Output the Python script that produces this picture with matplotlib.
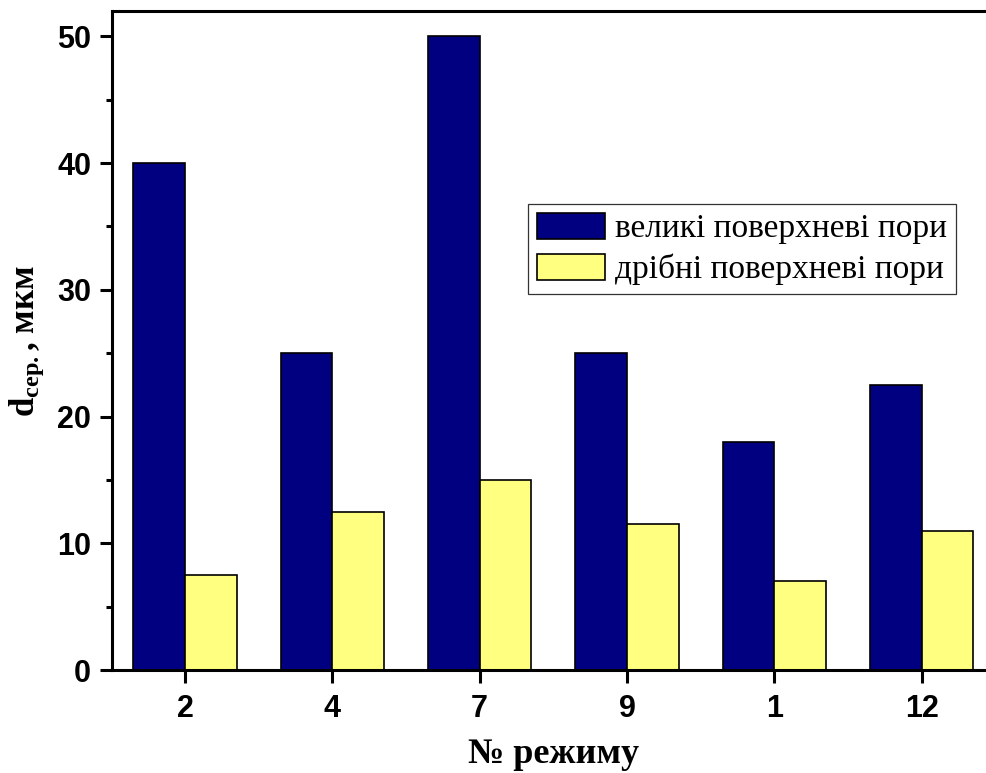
import numpy as np
import matplotlib
matplotlib.use("Agg")
import matplotlib.pyplot as plt
from matplotlib.ticker import MultipleLocator

# режими та середні діаметри пор, мкм
modes = ["2", "4", "7", "9", "1", "12"]
large_pores = [40, 25, 50, 25, 18, 22.5]
small_pores = [7.5, 12.5, 15, 11.5, 7, 11]

label_large = "великі поверхневі пори"
label_small = "дрібні поверхневі пори"

NAVY = "#000080"
PALE_YELLOW = "#FFFF80"

fig = plt.figure(figsize=(9.87, 7.73), dpi=100)
# права межа осей виходить за край рисунка
ax = fig.add_axes([0.1135, 0.1332, 0.8957, 0.8525])

x = np.arange(1, len(modes) + 1)
w = 0.35
ax.bar(x - w / 2, large_pores, width=w, color=NAVY, edgecolor="black",
       linewidth=1.2, label=label_large)
ax.bar(x + w / 2, small_pores, width=w, color=PALE_YELLOW, edgecolor="black",
       linewidth=1.2, label=label_small)

ax.set_xlim(0.505, 6.505)
ax.set_ylim(0, 52)
ax.set_xticks(x)
ax.set_xticklabels(modes)
ax.yaxis.set_major_locator(MultipleLocator(10))
ax.yaxis.set_minor_locator(MultipleLocator(5))

for s in ax.spines.values():
    s.set_linewidth(2.2)

ax.tick_params(axis="both", which="major", direction="out", length=9,
               width=2.2, labelsize=22)
ax.tick_params(axis="both", which="minor", direction="out", length=4.5,
               width=2.2)
ax.tick_params(axis="x", which="major", pad=8)
ax.tick_params(axis="y", which="major", pad=6)
for lbl in ax.get_xticklabels() + ax.get_yticklabels():
    lbl.set_fontfamily("Liberation Sans")
    lbl.set_fontweight("bold")

ax.set_xlabel("№ режиму", fontfamily="Liberation Serif", fontweight="bold",
              fontsize=26, labelpad=10)
ax.set_ylabel(r"$\mathregular{d_{сер.}}$, мкм", fontfamily="Liberation Serif",
              fontweight="bold", fontsize=25, labelpad=8)

leg = ax.legend(loc="upper left", bbox_to_anchor=(0.4706, 0.707),
                borderaxespad=0, fancybox=False, frameon=True,
                prop={"family": "Liberation Serif", "size": 24},
                handlelength=2.05, handleheight=0.82, handletextpad=0.3,
                labelspacing=0.28, borderpad=0.26)
leg.get_frame().set_edgecolor("black")
leg.get_frame().set_linewidth(0.9)

fig.savefig("out.png", dpi=100)
